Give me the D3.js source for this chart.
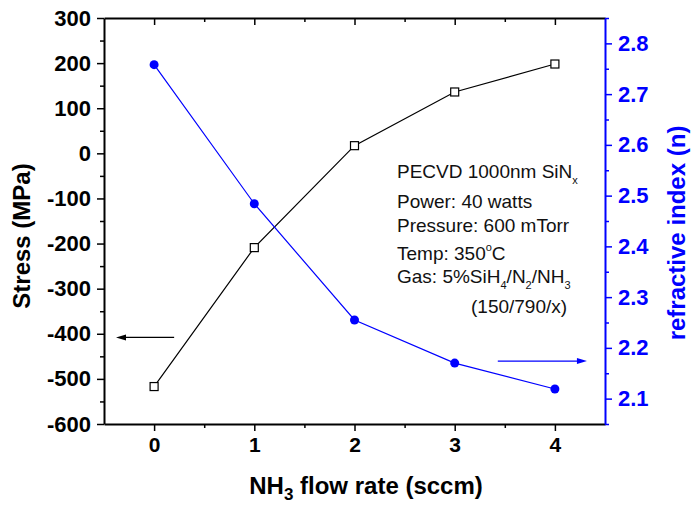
<!DOCTYPE html>
<html>
<head>
<meta charset="utf-8">
<script src="https://cdn.jsdelivr.net/npm/d3@7"></script>
<style>
  body { margin: 0; background: #fff; }
  svg { font-family: "Liberation Sans", Arial, sans-serif; }
</style>
</head>
<body>
<svg id="chart"></svg>
<script>
//constants
const width = 691,
    height = 506,
    margin = { top: 18, bottom: 82, left: 104, right: 86 };

//data
const flowRate = [0, 1, 2, 3, 4];
const stress = [-517, -209, 17, 136, 198];
const refIndex = [2.758, 2.484, 2.255, 2.170, 2.119];

//tick values
const flowTicks = [0, 1, 2, 3, 4];
const flowMinor = [0.5, 1.5, 2.5, 3.5];
const stressTicks = [-600, -500, -400, -300, -200, -100, 0, 100, 200, 300];
const stressMinor = [-550, -450, -350, -250, -150, -50, 50, 150, 250];
const indexTicks = [2.1, 2.2, 2.3, 2.4, 2.5, 2.6, 2.7, 2.8];
const indexMinor = [2.05, 2.15, 2.25, 2.35, 2.45, 2.55, 2.65, 2.75, 2.85];

//annotation arrows: [x from, x to(tip), y]
const stressArrow = [0.2, -0.38, -408];
const indexArrow = [3.43, 4.32, 2.174];

const blue = "#0000ff";

const svg = d3.select("#chart").attr("width", width).attr("height", height);

const xScale = d3.scaleLinear().domain([-0.5, 4.5]).range([margin.left, width - margin.right]);
const yScale = d3.scaleLinear().domain([-600, 300]).range([height - margin.bottom, margin.top]);
const y2Scale = d3.scaleLinear().domain([2.05, 2.85]).range([height - margin.bottom, margin.top]);

const bottomY = height - margin.bottom;
const rightX = width - margin.right;

// plain hyphen for negatives, like the original
const hyphenFmt = d => String(d);

function styleAxis(g, color, fontSize) {
    g.selectAll("line").attr("stroke", color).attr("stroke-width", 1.5);
    g.selectAll("path.domain").attr("stroke", color).attr("stroke-width", 2);
    g.selectAll("text")
        .attr("fill", color)
        .style("font-size", fontSize + "px")
        .style("font-weight", "bold")
        .style("font-family", '"Liberation Sans", Arial, sans-serif');
}

// bottom axis
const xAxis = svg.append("g").attr("transform", `translate(0,${bottomY})`)
    .call(d3.axisBottom(xScale).tickValues(flowTicks).tickFormat(hyphenFmt)
        .tickSize(7).tickSizeOuter(0).tickPadding(6));
styleAxis(xAxis, "#000", 21);
const xMinor = svg.append("g").attr("transform", `translate(0,${bottomY})`)
    .call(d3.axisBottom(xScale).tickValues(flowMinor).tickFormat("").tickSize(4).tickSizeOuter(0));
xMinor.select(".domain").remove();
styleAxis(xMinor, "#000", 21);

// top axis (inward ticks, no labels)
const topAxis = svg.append("g").attr("transform", `translate(0,${margin.top})`)
    .call(d3.axisBottom(xScale).tickValues(flowTicks).tickFormat("").tickSize(7).tickSizeOuter(0));
styleAxis(topAxis, "#000", 21);
const topMinor = svg.append("g").attr("transform", `translate(0,${margin.top})`)
    .call(d3.axisBottom(xScale).tickValues(flowMinor).tickFormat("").tickSize(4).tickSizeOuter(0));
topMinor.select(".domain").remove();
styleAxis(topMinor, "#000", 21);

// left axis
const yAxis = svg.append("g").attr("transform", `translate(${margin.left},0)`)
    .call(d3.axisLeft(yScale).tickValues(stressTicks).tickFormat(hyphenFmt)
        .tickSize(7).tickSizeOuter(0).tickPadding(6));
styleAxis(yAxis, "#000", 22);
const yMinor = svg.append("g").attr("transform", `translate(${margin.left},0)`)
    .call(d3.axisLeft(yScale).tickValues(stressMinor).tickFormat("").tickSize(4).tickSizeOuter(0));
yMinor.select(".domain").remove();
styleAxis(yMinor, "#000", 22);

// right axis
const y2Axis = svg.append("g").attr("transform", `translate(${rightX},0)`)
    .call(d3.axisRight(y2Scale).tickValues(indexTicks).tickFormat(d3.format(".1f"))
        .tickSize(7).tickSizeOuter(0).tickPadding(6));
styleAxis(y2Axis, blue, 22);
const y2Minor = svg.append("g").attr("transform", `translate(${rightX},0)`)
    .call(d3.axisRight(y2Scale).tickValues(indexMinor).tickFormat("").tickSize(4).tickSizeOuter(0));
y2Minor.select(".domain").remove();
styleAxis(y2Minor, blue, 22);

// axis titles
svg.append("text")
    .attr("transform", `translate(30,236) rotate(-90)`)
    .attr("text-anchor", "middle")
    .style("font-size", "24px").style("font-weight", "bold")
    .text("Stress (MPa)");

svg.append("text")
    .attr("transform", `translate(685,233) rotate(-90)`)
    .attr("text-anchor", "middle")
    .attr("fill", blue)
    .style("font-size", "24px").style("font-weight", "bold")
    .text("refractive index (n)");

const xTitle = svg.append("text")
    .attr("x", 366).attr("y", 494)
    .attr("text-anchor", "middle")
    .style("font-size", "24px").style("font-weight", "bold");
xTitle.append("tspan").text("NH");
xTitle.append("tspan").attr("dy", 6).style("font-size", "17px").text("3");
xTitle.append("tspan").attr("dy", -6).text(" flow rate (sccm)");

// series
const stressData = flowRate.map((d, i) => ({ x: d, y: stress[i] }));
const indexData = flowRate.map((d, i) => ({ x: d, y: refIndex[i] }));

svg.append("path")
    .datum(stressData)
    .attr("fill", "none").attr("stroke", "#000").attr("stroke-width", 1.2)
    .attr("d", d3.line().x(d => xScale(d.x)).y(d => yScale(d.y)));

svg.selectAll("rect.pt")
    .data(stressData)
    .join("rect")
    .attr("class", "pt")
    .attr("x", d => xScale(d.x) - 4).attr("y", d => yScale(d.y) - 4)
    .attr("width", 8).attr("height", 8)
    .attr("fill", "#fff").attr("stroke", "#000").attr("stroke-width", 1.2);

svg.append("path")
    .datum(indexData)
    .attr("fill", "none").attr("stroke", blue).attr("stroke-width", 1.2)
    .attr("d", d3.line().x(d => xScale(d.x)).y(d => y2Scale(d.y)));

svg.selectAll("circle.pt")
    .data(indexData)
    .join("circle")
    .attr("class", "pt")
    .attr("cx", d => xScale(d.x)).attr("cy", d => y2Scale(d.y))
    .attr("r", 4.5)
    .attr("fill", blue);

// arrows
function arrow(x0, x1, y, color) {
    const dir = x1 > x0 ? 1 : -1;
    svg.append("line")
        .attr("x1", x0).attr("x2", x1 - dir * 6).attr("y1", y).attr("y2", y)
        .attr("stroke", color).attr("stroke-width", 1.2);
    svg.append("path")
        .attr("d", `M${x1},${y} L${x1 - dir * 10},${y - 3} L${x1 - dir * 10},${y + 3} Z`)
        .attr("fill", color);
}
arrow(xScale(stressArrow[0]), xScale(stressArrow[1]), yScale(stressArrow[2]), "#000");
arrow(xScale(indexArrow[0]), xScale(indexArrow[1]), y2Scale(indexArrow[2]), blue);

// process notes
const notes = svg.append("g").style("font-size", "19px").attr("fill", "#111");
const l1 = notes.append("text").attr("x", 397).attr("y", 178);
l1.append("tspan").text("PECVD 1000nm SiN");
l1.append("tspan").attr("dy", 6).style("font-size", "11px").text("x");

notes.append("text").attr("x", 397).attr("y", 208).text("Power: 40 watts");
notes.append("text").attr("x", 397).attr("y", 232).text("Pressure: 600 mTorr");

const l4 = notes.append("text").attr("x", 397).attr("y", 260);
l4.append("tspan").text("Temp: 350");
l4.append("tspan").attr("dy", -9).style("font-size", "11px").text("o");
l4.append("tspan").attr("dy", 9).text("C");

const l5 = notes.append("text").attr("x", 397).attr("y", 283);
l5.append("tspan").text("Gas: 5%SiH");
l5.append("tspan").attr("dy", 6).style("font-size", "11px").text("4");
l5.append("tspan").attr("dy", -6).text("/N");
l5.append("tspan").attr("dy", 6).style("font-size", "11px").text("2");
l5.append("tspan").attr("dy", -6).text("/NH");
l5.append("tspan").attr("dy", 6).style("font-size", "11px").text("3");

notes.append("text").attr("x", 471).attr("y", 313).text("(150/790/x)");
</script>
</body>
</html>
